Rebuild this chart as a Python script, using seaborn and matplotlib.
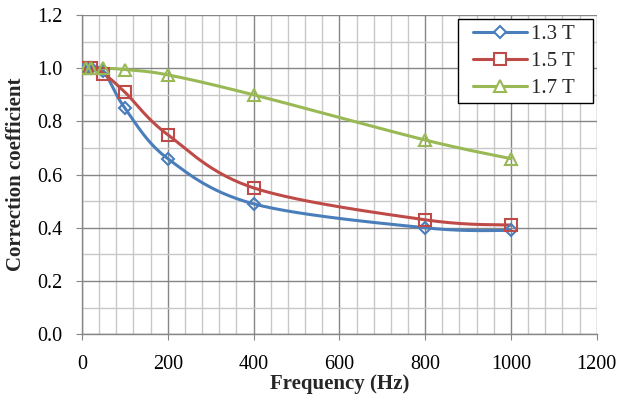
import numpy as np
import pandas as pd
import matplotlib
matplotlib.use("Agg")
import matplotlib.pyplot as plt
from matplotlib.lines import Line2D
from matplotlib.legend_handler import HandlerLine2D
from matplotlib.ticker import MultipleLocator, FormatStrFormatter
import seaborn as sns

freq = [10, 20, 50, 100, 200, 400, 800, 1000]
b13 = [1.0, 1.0, 0.99, 0.85, 0.66, 0.49, 0.40, 0.39]
b15 = [1.0, 1.0, 0.98, 0.91, 0.75, 0.55, 0.43, 0.41]
b17 = [1.0, 1.0, 1.0, 0.995, 0.975, 0.90, 0.73, 0.66]
labels = ["1.3 T", "1.5 T", "1.7 T"]
colors = ["#4A7EBB", "#BE4B48", "#98B954"]
markers = ["D", "s", "^"]
msizes = [6, 8, 8.5]


def smooth(x, y, n=30):
    x = np.asarray(x, float); y = np.asarray(y, float)
    xs, ys = [], []
    m = len(x)
    for i in range(m - 1):
        p0 = np.array([x[max(i - 1, 0)], y[max(i - 1, 0)]])
        p1 = np.array([x[i], y[i]])
        p2 = np.array([x[i + 1], y[i + 1]])
        p3 = np.array([x[min(i + 2, m - 1)], y[min(i + 2, m - 1)]])
        c1 = p1 + (p2 - p0) / 6.0
        c2 = p2 - (p3 - p1) / 6.0
        t = np.linspace(0, 1, n)[:, None]
        pts = ((1 - t) ** 3) * p1 + 3 * ((1 - t) ** 2) * t * c1 + 3 * (1 - t) * t ** 2 * c2 + t ** 3 * p2
        xs.extend(pts[:, 0]); ys.extend(pts[:, 1])
    return np.array(xs), np.array(ys)


sns.set_style("white")
plt.rcParams["font.family"] = ["Liberation Serif", "DejaVu Serif"]

fig = plt.figure(figsize=(6.21, 3.95), dpi=100)
ax = fig.add_axes([0.132, 0.154, 0.829, 0.808])

rows = []
for lab, ys in zip(labels, [b13, b15, b17]):
    sx, sy = smooth(freq, ys)
    for a, b in zip(sx, sy):
        rows.append({"Frequency": a, "Coef": b, "Series": lab})
curve = pd.DataFrame(rows)
pts = pd.DataFrame({"Frequency": freq * 3,
                    "Coef": b13 + b15 + b17,
                    "Series": [l for l in labels for _ in freq]})

sns.lineplot(data=curve, x="Frequency", y="Coef", hue="Series", palette=colors,
             sort=False, estimator=None, linewidth=2.2, ax=ax, legend=False, zorder=3)
for lab, c, mk, ms in zip(labels, colors, markers, msizes):
    d = pts[pts.Series == lab]
    ax.plot(d.Frequency, d.Coef, linestyle="none", marker=mk, markersize=ms,
            markerfacecolor="none", markeredgecolor=c, markeredgewidth=1.5, zorder=4)

ax.set_xlim(0, 1200)
ax.set_ylim(0, 1.2)
ax.xaxis.set_major_locator(MultipleLocator(200))
ax.xaxis.set_minor_locator(MultipleLocator(40))
ax.yaxis.set_major_locator(MultipleLocator(0.2))
ax.yaxis.set_minor_locator(MultipleLocator(0.1))
ax.yaxis.set_major_formatter(FormatStrFormatter("%.1f"))
ax.grid(which="major", color="#868686", linewidth=1.0, zorder=0)
ax.grid(which="minor", color="#C8C8C8", linewidth=1.0, zorder=0)
ax.set_axisbelow(True)
for s in ["top", "right"]:
    ax.spines[s].set_visible(False)
for s in ["left", "bottom"]:
    ax.spines[s].set_color("#868686")
    ax.spines[s].set_linewidth(1.0)
ax.tick_params(which="major", direction="out", length=4, color="#868686",
               labelsize=14.5, labelcolor="black", left=True, bottom=True)
ax.tick_params(axis="y", pad=10)
ax.tick_params(axis="x", pad=11)
ax.tick_params(which="minor", length=0)
ax.set_xlabel("Frequency (Hz)", fontsize=15, fontweight="bold", labelpad=0)
ax.set_ylabel("Correction coefficient", fontsize=15, fontweight="bold", labelpad=8)

handles = [Line2D([0], [0], color=c, lw=2.2, marker=mk, markersize=ms,
                  markerfacecolor="white", markeredgecolor=c, markeredgewidth=1.5)
           for c, mk, ms in zip(colors, markers, msizes)]
leg = ax.legend(handles, labels, loc="upper right",
                bbox_to_anchor=(0.730, 0.5, 0.262, 0.487), mode="expand",
                borderaxespad=0, fontsize=15, frameon=True, fancybox=False,
                edgecolor="black", framealpha=1, handlelength=3.08, borderpad=0.25,
                labelspacing=0.36, handletextpad=0.2,
                handler_map={Line2D: HandlerLine2D(xpad=0.48)})
leg.get_frame().set_linewidth(1.0)

fig.savefig("out.png", dpi=100)
